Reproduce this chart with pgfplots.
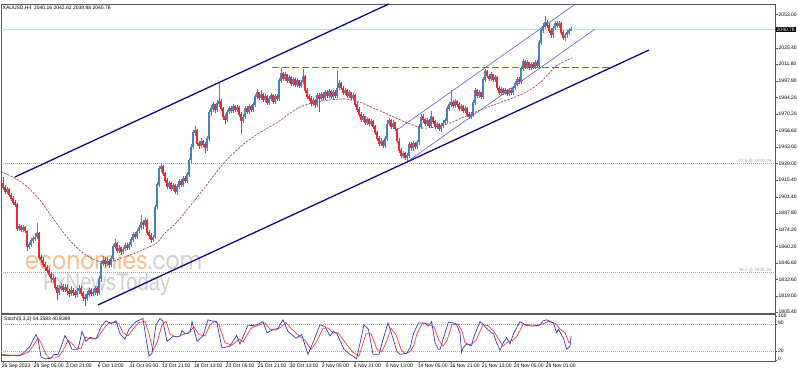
\documentclass[border=0pt]{standalone}
\usepackage{pgfplots}
\pgfplotsset{compat=1.18}
\usepackage{pgfplotstable}
\usepackage{fontspec}
\setmainfont{Liberation Sans}
\newfontfamily\wmfont{Poppins}
\definecolor{upc}{RGB}{70,130,190}
\definecolor{dnc}{RGB}{240,40,50}
\definecolor{outerc}{RGB}{10,10,140}
\definecolor{innerc}{RGB}{95,95,205}
\definecolor{dashc}{RGB}{105,105,205}
\definecolor{mac}{RGB}{160,70,70}
\definecolor{curc}{RGB}{190,225,235}
\definecolor{fibc}{RGB}{170,170,170}
\definecolor{frc}{RGB}{90,90,90}
\definecolor{wmor}{RGB}{248,190,145}
\definecolor{wmgr}{RGB}{208,208,208}
\definecolor{kc}{RGB}{60,60,190}
\definecolor{dc}{RGB}{250,60,60}

\pgfplotstableread{
i o h l c
0 1913 1918 1907 1909
1 1909 1911 1904 1906
2 1906 1910 1904 1908
3 1908 1909 1901 1903
4 1903 1905 1898 1900
5 1900 1902 1895 1897
6 1897 1899 1893 1895
7 1895 1896 1873 1875
8 1875 1879 1873 1877
9 1877 1878 1872 1874
10 1874 1878 1872 1876
11 1876 1877 1871 1873
12 1873 1874 1856 1860
13 1860 1864 1858 1862
14 1862 1867 1860 1865
15 1865 1869 1863 1867
16 1867 1871 1865 1868
17 1868 1880 1866 1871
18 1871 1872 1849 1851
19 1851 1853 1846 1849
20 1849 1851 1843 1845
21 1845 1847 1840 1843
22 1843 1845 1838 1840
23 1840 1842 1835 1837
24 1837 1839 1831 1833
25 1833 1837 1830 1834
26 1834 1835 1824 1826
27 1826 1828 1816 1822
28 1822 1828 1820 1825
29 1825 1830 1823 1827
30 1827 1829 1822 1824
31 1824 1829 1822 1826
32 1826 1828 1820 1823
33 1823 1825 1818 1821
34 1821 1827 1819 1824
35 1824 1826 1819 1822
36 1822 1824 1817 1820
37 1820 1826 1818 1823
38 1823 1828 1821 1825
39 1825 1827 1819 1821
40 1821 1823 1815 1818
41 1818 1821 1811 1817
42 1817 1823 1815 1820
43 1820 1826 1818 1824
44 1824 1826 1819 1821
45 1821 1825 1819 1822
46 1822 1827 1820 1825
47 1825 1827 1819 1822
48 1822 1836 1820 1833
49 1833 1848 1831 1846
50 1846 1852 1844 1849
51 1849 1851 1843 1846
52 1846 1851 1844 1848
53 1848 1850 1842 1845
54 1845 1852 1843 1850
55 1850 1862 1848 1860
56 1860 1866 1858 1863
57 1863 1864 1855 1857
58 1857 1861 1855 1859
59 1859 1860 1853 1856
60 1856 1860 1854 1858
61 1858 1863 1856 1861
62 1861 1863 1857 1859
63 1859 1864 1857 1862
64 1862 1868 1860 1866
65 1866 1872 1864 1870
66 1870 1872 1866 1868
67 1868 1875 1866 1873
68 1873 1878 1871 1876
69 1876 1886 1874 1880
70 1880 1882 1875 1878
71 1878 1884 1876 1882
72 1882 1883 1870 1872
73 1872 1874 1866 1869
74 1869 1871 1863 1866
75 1866 1870 1864 1868
76 1868 1895 1866 1893
77 1893 1914 1891 1912
78 1912 1927 1910 1925
79 1925 1930 1922 1927
80 1927 1928 1919 1921
81 1921 1922 1913 1915
82 1915 1917 1908 1910
83 1910 1915 1908 1913
84 1913 1914 1906 1908
85 1908 1913 1906 1911
86 1911 1912 1904 1906
87 1906 1912 1903 1910
88 1910 1916 1908 1914
89 1914 1916 1910 1912
90 1912 1919 1910 1917
91 1917 1919 1913 1915
92 1915 1922 1913 1920
93 1920 1934 1918 1932
94 1932 1945 1930 1943
95 1943 1957 1941 1955
96 1955 1960 1952 1957
97 1957 1958 1944 1946
98 1946 1948 1941 1944
99 1944 1950 1942 1948
100 1948 1949 1943 1945
101 1945 1947 1938 1942
102 1942 1952 1940 1950
103 1950 1974 1948 1972
104 1972 1978 1969 1975
105 1975 1980 1972 1978
106 1978 1979 1971 1974
107 1974 1982 1972 1979
108 1979 1996 1976 1981
109 1981 1983 1973 1975
110 1975 1976 1965 1968
111 1968 1970 1962 1966
112 1966 1974 1964 1972
113 1972 1977 1970 1975
114 1975 1977 1971 1973
115 1973 1979 1971 1977
116 1977 1978 1972 1974
117 1974 1978 1972 1976
118 1976 1977 1968 1970
119 1970 1972 1954 1965
120 1965 1970 1963 1968
121 1968 1977 1966 1975
122 1975 1977 1970 1972
123 1972 1979 1970 1977
124 1977 1978 1972 1974
125 1974 1980 1972 1978
126 1978 1987 1976 1985
127 1985 1991 1983 1988
128 1988 1989 1982 1984
129 1984 1990 1982 1987
130 1987 1988 1980 1982
131 1982 1987 1980 1985
132 1985 1986 1978 1980
133 1980 1985 1978 1983
134 1983 1988 1981 1986
135 1986 1987 1979 1981
136 1981 1987 1979 1985
137 1985 1987 1981 1983
138 1983 2000 1981 1998
139 1998 2009 1996 2004
140 2004 2005 1998 2000
141 2000 2005 1998 2003
142 2003 2004 1996 1998
143 1998 2003 1996 2001
144 2001 2002 1994 1996
145 1996 2001 1994 1999
146 1999 2000 1993 1995
147 1995 2000 1993 1998
148 1998 1999 1992 1994
149 1994 1999 1992 1997
150 1997 2008 1995 2002
151 2002 2003 1988 1990
152 1990 1992 1983 1985
153 1985 1987 1981 1983
154 1983 1985 1977 1979
155 1979 1984 1977 1982
156 1982 1983 1975 1978
157 1978 1988 1976 1986
158 1986 1988 1972 1983
159 1983 1989 1981 1987
160 1987 1989 1982 1984
161 1984 1990 1982 1988
162 1988 1990 1984 1986
163 1986 1991 1984 1989
164 1989 1990 1983 1985
165 1985 1990 1983 1988
166 1988 1990 1984 1986
167 1986 2006 1984 1992
168 1992 1999 1990 1996
169 1996 1997 1990 1992
170 1992 1994 1986 1988
171 1988 1992 1986 1990
172 1990 1991 1984 1986
173 1986 1990 1984 1988
174 1988 1989 1982 1984
175 1984 1988 1982 1986
176 1986 1987 1976 1978
177 1978 1980 1972 1974
178 1974 1976 1968 1970
179 1970 1972 1964 1966
180 1966 1970 1964 1968
181 1968 1969 1961 1963
182 1963 1968 1961 1966
183 1966 1967 1960 1962
184 1962 1966 1960 1964
185 1964 1965 1958 1960
186 1960 1961 1953 1955
187 1955 1956 1948 1950
188 1950 1952 1944 1946
189 1946 1950 1944 1948
190 1948 1949 1942 1944
191 1944 1952 1942 1950
192 1950 1965 1948 1962
193 1962 1967 1960 1965
194 1965 1966 1958 1960
195 1960 1965 1958 1963
196 1963 1964 1956 1958
197 1958 1959 1946 1948
198 1948 1950 1938 1940
199 1940 1942 1934 1936
200 1936 1940 1934 1938
201 1938 1939 1932 1934
202 1934 1938 1931 1936
203 1936 1947 1934 1945
204 1945 1947 1940 1942
205 1942 1948 1940 1946
206 1946 1947 1941 1943
207 1943 1949 1941 1947
208 1947 1962 1945 1960
209 1960 1970 1958 1968
210 1968 1970 1963 1966
211 1966 1967 1960 1962
212 1962 1967 1960 1965
213 1965 1966 1959 1961
214 1961 1973 1959 1968
215 1968 1969 1962 1964
216 1964 1965 1958 1960
217 1960 1964 1958 1962
218 1962 1963 1956 1958
219 1958 1963 1955 1961
220 1961 1965 1959 1963
221 1963 1967 1961 1965
222 1965 1977 1963 1975
223 1975 1980 1973 1978
224 1978 1990 1976 1980
225 1980 1982 1975 1977
226 1977 1983 1975 1981
227 1981 1982 1976 1978
228 1978 1980 1973 1975
229 1975 1979 1973 1977
230 1977 1978 1971 1973
231 1973 1977 1971 1975
232 1975 1976 1968 1970
233 1970 1972 1966 1968
234 1968 1972 1966 1970
235 1970 1982 1968 1980
236 1980 1992 1978 1990
237 1990 1991 1984 1986
238 1986 1990 1984 1988
239 1988 1989 1983 1985
240 1985 2001 1983 1999
241 1999 2008 1997 2006
242 2006 2007 2000 2002
243 2002 2004 1998 2000
244 2000 2005 1998 2003
245 2003 2004 1997 1999
246 1999 2003 1997 2001
247 2001 2002 1990 1992
248 1992 1994 1986 1988
249 1988 1993 1986 1991
250 1991 1992 1986 1988
251 1988 1992 1986 1990
252 1990 1991 1985 1987
253 1987 1992 1985 1990
254 1990 1992 1986 1988
255 1988 1994 1986 1992
256 1992 1998 1990 1996
257 1996 2001 1994 1999
258 1999 2001 1995 1997
259 1997 2010 1995 2008
260 2008 2016 2006 2014
261 2014 2015 2008 2010
262 2010 2015 2008 2013
263 2013 2014 2007 2009
264 2009 2014 2007 2012
265 2012 2014 2008 2010
266 2010 2015 2008 2013
267 2013 2015 2009 2011
268 2011 2032 2009 2030
269 2030 2042 2028 2040
270 2040 2046 2038 2043
271 2043 2052 2041 2047
272 2047 2049 2042 2044
273 2044 2046 2038 2040
274 2040 2042 2034 2036
275 2036 2044 2034 2042
276 2042 2048 2040 2046
277 2046 2048 2042 2044
278 2044 2048 2042 2046
279 2046 2047 2036 2038
280 2038 2040 2032 2034
281 2034 2038 2031 2036
282 2036 2040 2034 2038
283 2038 2042 2036 2040.16
284 2040.16 2042.62 2039.88 2040.78
}\candles

\begin{document}
\begin{tikzpicture}
\fill[white] (0pt,0pt) rectangle (798pt,372pt);
% watermark
\node[anchor=base west, inner sep=0pt, font=\wmfont\fontsize{22}{24}\selectfont, yscale=1.15] at (25pt,102pt) {\textcolor{wmor}{economies}\textcolor{wmgr}{.com}};
\node[anchor=base west, inner sep=0pt, font=\fontsize{22}{24}\selectfont, xscale=0.92, yscale=1.1] at (43pt,81pt) {\textcolor{wmgr}{FxNewsToday}};

\begin{axis}[
  at={(1pt,59pt)}, anchor=south west, scale only axis,
  width=774pt, height=309pt,
  xmin=-1, xmax=386, ymin=1804.8, ymax=2061.9,
  clip bounding box=upper bound,
  axis line style={draw=frc, line width=0.7pt},
  xtick=\empty,
  ytick={2053,2025.4,2011.8,1997.8,1984.2,1970.2,1956.6,1943,1929,1915.4,1901.4,1887.8,1874.2,1860.2,1846.6,1832.6,1819,1805.4},
  yticklabels={2053.00,2025.40,2011.80,1997.80,1984.20,1970.20,1956.60,1943.00,1929.00,1915.40,1901.40,1887.80,1874.20,1860.20,1846.60,1832.60,1819.00,1805.40},
  ytick pos=right, yticklabel pos=right,
  tick align=outside, major tick length=2.5pt,
  tick style={draw=frc, line width=0.5pt},
  yticklabel style={font=\fontsize{5}{6}\selectfont, inner sep=0pt, xshift=1pt},
  clip=true, no markers,
]
\addplot[fibc, line width=0.5pt, dash pattern=on 0.8pt off 1.2pt, forget plot] coordinates {(-1,1929.09) (386,1929.09)};
\addplot[fibc, line width=0.5pt, dash pattern=on 0.8pt off 1.2pt, forget plot] coordinates {(-1,1838.35) (386,1838.35)};
\addplot[curc, line width=0.6pt, forget plot] coordinates {(-1,2040.78) (386,2040.78)};
\addplot[draw=none, mark=none, forget plot,
  restrict expr to domain={\thisrow{c}-\thisrow{o}}{0:1000},
  error bars/.cd, y dir=both, y explicit, error mark=none,
  error bar style={line width=0.55pt, draw=upc, solid}]
  table[x=i, y expr={(\thisrow{h}+\thisrow{l})/2}, y error expr={(\thisrow{h}-\thisrow{l})/2}] {\candles};
\addplot[draw=none, mark=none, forget plot,
  restrict expr to domain={\thisrow{c}-\thisrow{o}}{-1000:-0.001},
  error bars/.cd, y dir=both, y explicit, error mark=none,
  error bar style={line width=0.55pt, draw=dnc, solid}]
  table[x=i, y expr={(\thisrow{h}+\thisrow{l})/2}, y error expr={(\thisrow{h}-\thisrow{l})/2}] {\candles};
\addplot[draw=none, mark=none, forget plot,
  restrict expr to domain={\thisrow{c}-\thisrow{o}}{0:1000},
  error bars/.cd, y dir=both, y explicit, error mark=none,
  error bar style={line width=1.3pt, draw=upc, solid}]
  table[x=i, y expr={(\thisrow{o}+\thisrow{c})/2}, y error expr={abs(\thisrow{c}-\thisrow{o})/2+0.3}] {\candles};
\addplot[draw=none, mark=none, forget plot,
  restrict expr to domain={\thisrow{c}-\thisrow{o}}{-1000:-0.001},
  error bars/.cd, y dir=both, y explicit, error mark=none,
  error bar style={line width=1.3pt, draw=dnc, solid}]
  table[x=i, y expr={(\thisrow{o}+\thisrow{c})/2}, y error expr={abs(\thisrow{c}-\thisrow{o})/2+0.3}] {\candles};
\addplot[mac, line width=0.7pt, dash pattern=on 2.2pt off 1.3pt, smooth, tension=0.4, forget plot] coordinates {
(-1,1922.5) (6,1917.1) (12,1910) (18.5,1898.8) (24,1886) (28.5,1875.5) (34,1864) (40,1854.7) (47,1848.1) (53.5,1847.0) (60,1851.0) (66,1854.5) (72,1858.9) (77,1863.1) (81,1871.4) (87,1880.5) (96,1898.8) (103,1914) (109.5,1927.9) (115,1937.5) (121,1946.3) (129,1955.5) (137.5,1963.7) (143,1970.5) (148.5,1976.2) (154.5,1979.5) (162,1981.8) (171,1982.9) (179.5,1979.5) (185,1975.5) (191,1971.2) (201,1963.7) (209.5,1958.7) (216,1959.6) (223.5,1962.9) (235,1971.2) (243,1976.5) (252,1982.0) (259,1986.5) (265,1992.0) (270,1998.7) (276,2009.5) (280,2013.5) (284.5,2017.0)};
\addplot[dashc, line width=0.8pt, dash pattern=on 7pt off 3pt, forget plot] coordinates {(134.5,2009.5) (303.5,2009.5)};
\addplot[innerc, line width=0.6pt, forget plot] coordinates {(197,1957.1) (286.2,2061.9)};
\addplot[innerc, line width=0.6pt, forget plot] coordinates {(203,1931.7) (296,2041.0)};
\addplot[outerc, line width=1.3pt, forget plot] coordinates {(6,1918.0) (192.9,2061.9)};
\addplot[outerc, line width=1.3pt, forget plot] coordinates {(47.5,1811.5) (323,2023.6)};
\node[anchor=north west, inner sep=0pt, font=\fontsize{5}{6}\selectfont] at (rel axis cs:0.002,0.995) {XAUUSD,H4\ \ 2040.16 2042.62 2039.88 2040.78};
\node[anchor=south east, inner sep=0.5pt, font=\fontsize{4.6}{5}\selectfont, text=fibc] at (axis cs:384.5,1929.09) {23.6 @ 1929.09};
\node[anchor=south east, inner sep=0.5pt, font=\fontsize{4.6}{5}\selectfont, text=fibc] at (axis cs:384.5,1838.35) {38.2 @ 1838.35};
\coordinate (pbox) at (axis cs:386,2040.78);
\end{axis}
\node[anchor=west, fill=black, text=white, inner sep=0.9pt, font=\fontsize{5}{6}\selectfont] at ([xshift=0.6pt]pbox) {2040.78};

\begin{axis}[
  at={(1pt,11pt)}, anchor=south west, scale only axis,
  width=774pt, height=47pt,
  xmin=-1, xmax=386, ymin=-1, ymax=104,
  clip bounding box=upper bound,
  axis line style={draw=frc, line width=0.7pt},
  xtick={0,16,32,48,64,80,96,112,128,144,160,176,192,208,224,240,256,272},
  xticklabels={26 Sep 2023,29 Sep 05:00,3 Oct 21:00,6 Oct 13:00,11 Oct 05:00,13 Oct 21:00,18 Oct 13:00,23 Oct 05:00,25 Oct 21:00,30 Oct 13:00,2 Nov 05:00,6 Nov 21:00,9 Nov 13:00,14 Nov 05:00,16 Nov 21:00,21 Nov 13:00,24 Nov 05:00,29 Nov 01:00},
  xtick pos=left, ytick pos=right, yticklabel pos=right,
  ytick={0,20,80,100},
  yticklabels={\raisebox{3pt}{0},\raisebox{1.2pt}{20},\raisebox{3pt}{80},\raisebox{-1.5pt}{100}},
  tick align=outside, major tick length=2pt,
  tick style={draw=frc, line width=0.5pt},
  yticklabel style={font=\fontsize{5}{6}\selectfont, inner sep=0pt, xshift=1pt},
  xticklabel style={font=\fontsize{5}{6}\selectfont, inner sep=0pt, anchor=north west, xshift=-1.3pt, yshift=-0.5pt},
  clip=true, no markers,
]
\addplot[fibc, line width=0.5pt, dash pattern=on 0.8pt off 1.2pt, forget plot] coordinates {(-1,80) (386,80)};
\addplot[fibc, line width=0.5pt, dash pattern=on 0.8pt off 1.2pt, forget plot] coordinates {(-1,20) (386,20)};
\addplot[dc, line width=0.7pt, forget plot] coordinates {
(-1,14) (3,12) (7,11) (10,13) (13,20) (15,32) (17.5,50) (19,40) (21,18) (23,6) (26,6) (28,10) (30,22) (32.5,45) (34.5,38) (36.5,28) (39,26) (41,52) (43,50) (45,48) (47.5,52) (50.5,72) (53,85) (55.5,86) (58,82) (60,62) (62.5,55) (65,70) (68,85) (71,88) (73,60) (75,22) (77,40) (79.5,80) (81.5,88) (83.5,60) (86.5,52) (90,58) (92.5,62) (95.5,75) (98,58) (101,55) (103.5,80) (106,88) (108,80) (111,40) (114.5,34) (118,48) (120,42) (124,72) (127,78) (131,84) (133.5,70) (136.5,68) (139,75) (141.5,85) (144,72) (148,55) (151,45) (154,25) (156.5,40) (160,72) (162.5,73) (165,62) (167.5,62) (172,35) (175,18) (178,10) (181.5,60) (184,60) (187,25) (189.5,20) (192,45) (194,72) (196.5,58) (199,25) (201,15) (203.5,20) (205.5,35) (207,60) (209.5,82) (212.5,82) (215.5,75) (218,45) (220,32) (222,45) (224.5,80) (227.5,82) (229.5,65) (231,40) (233.5,35) (236.5,45) (240,80) (242.5,78) (245.5,65) (247.5,50) (250,32) (252.5,42) (255,45) (257,55) (260,80) (263,80) (267,78) (270,82) (273,88) (276.5,82) (278.5,70) (281,62) (283,40) (284,40.84)};
\addplot[kc, line width=0.7pt, forget plot] coordinates {
(-1,12) (2,11) (5,12) (8.5,11) (11,20) (13.5,32) (15.5,50) (16.5,58) (17.5,48) (19,8) (21,4) (24,5) (25.5,14) (27.5,13) (29,30) (31,56) (33,40) (34.5,25) (37.5,25) (39.5,65) (41.5,43) (43.5,52) (46.5,48) (49,75) (51.5,89) (54,82) (56.5,89) (58.5,60) (61,48) (63,70) (66.5,87) (70,94) (71.5,50) (73,10) (74.5,16) (76.5,80) (78.5,94) (80,88) (82,43) (85,54) (88.5,54) (89.5,67) (91,60) (93.5,62) (94.5,87) (97,43) (100,55) (102.5,91) (105,88) (106.8,87) (109.5,28) (113.5,32) (116.8,56) (118.5,37) (122.5,79) (125,78) (127,80) (130,87) (132,62) (135,69) (137.5,72) (140,91) (142.5,65) (146.5,50) (149.3,58) (152.5,14) (155,40) (158.5,80) (161,76) (163.5,55) (165.2,65) (167,60) (170.5,25) (173.5,14) (176.8,4) (180.5,80) (182.7,70) (185,14) (188,14) (190.2,50) (192.5,84) (195,50) (197,20) (198.5,14) (201.8,16) (203.5,28) (205.2,60) (207.7,84) (211,84) (212.7,77) (214.3,87) (216,40) (217.7,25) (218.5,25) (220.2,50) (222.7,86) (226,83) (226.8,80) (228.5,62) (229.3,18) (230.2,30) (231.8,37) (234.3,33) (235.2,50) (238.5,87) (240.2,80) (241.8,72) (244.3,62) (245.2,60) (246.8,40) (248.5,23) (250.2,40) (251.8,51) (253.5,37) (255.2,60) (258.5,87) (261.8,78) (265.2,77) (268.5,80) (270.2,89) (271.8,91) (275.2,84) (276.8,62) (277.7,70) (280.2,50) (281.8,25) (283.5,32) (284,54.36)};
\node[anchor=west, inner sep=0pt, font=\fontsize{5}{6}\selectfont] at (axis cs:0.5,93) {Stoch(5,3,3) 54.3583 40.8369};
\end{axis}
\end{tikzpicture}
\end{document}
